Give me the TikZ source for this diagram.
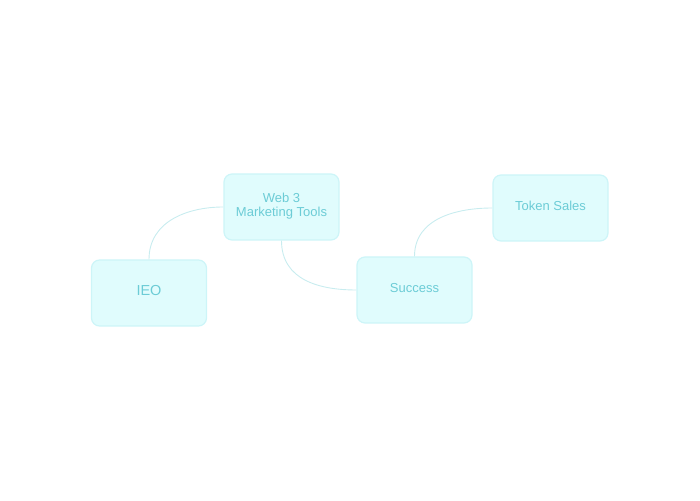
\documentclass[tikz,border=0pt]{standalone}
\usepackage{fontspec}
\setmainfont{Liberation Sans}
\definecolor{boxfill}{HTML}{E0FCFD}
\definecolor{boxline}{HTML}{CDF5F8}
\definecolor{boxtext}{HTML}{6CCCD6}
\definecolor{linkcol}{HTML}{C8ECEF}
\begin{document}
\begin{tikzpicture}[x=1pt,y=1pt,
  topic/.style={rectangle, rounded corners=8pt, draw=boxline, line width=1.2pt, fill=boxfill,
    minimum width=115pt, minimum height=66pt, text=boxtext, align=center,
    font=\fontsize{13}{14}\selectfont, text depth=5pt},
  link/.style={draw=linkcol, line width=0.9pt}]
\useasboundingbox (0,0) rectangle (700,500);
\node[topic] (web) at (281.5,293) {Web 3\\Marketing Tools};
\node[topic, font=\fontsize{14.5}{16}\selectfont] (ieo) at (149,207) {IEO};
\node[topic] (succ) at (414.5,210) {Success};
\node[topic] (tok) at (550.5,292) {Token Sales};
\begin{scope}[on background layer/.try]
\end{scope}
\draw[link] (ieo.north) .. controls +(0,38) and +(-36,0) .. (web.west);
\draw[link] (web.south) .. controls +(0,-40) and +(-36,0) .. (succ.west);
\draw[link] (succ.north) .. controls +(0,38) and +(-36,0) .. (tok.west);
\end{tikzpicture}
\end{document}
